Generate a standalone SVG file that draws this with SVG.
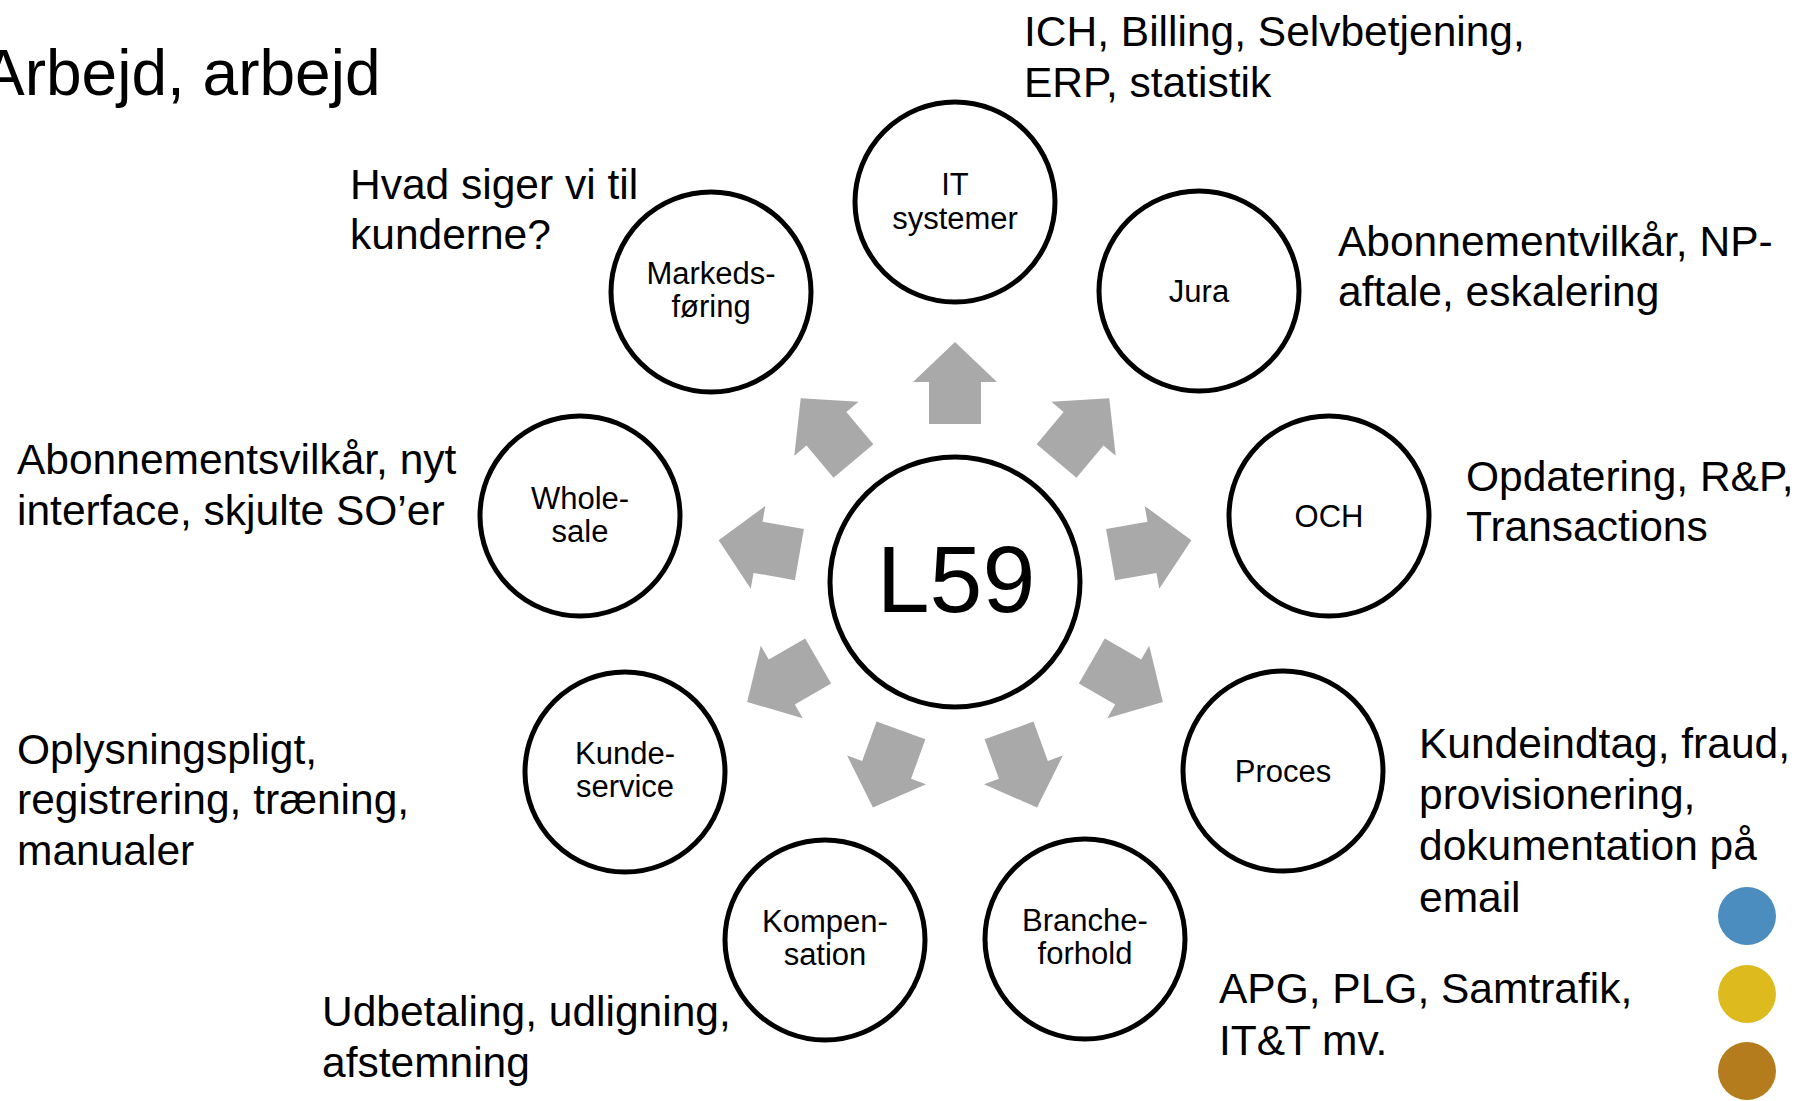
<svg xmlns="http://www.w3.org/2000/svg" xmlns:xlink="http://www.w3.org/1999/xlink" width="1798" height="1101" viewBox="0 0 1798 1101">
<style>
text { font-family: "Liberation Sans", Arial, sans-serif; fill: #000; }
.node { fill: #fff; stroke: #000; stroke-width: 5; }
.lbl { font-size: 31px; text-anchor: middle; }
.note { font-size: 42.5px; }
.title { font-size: 64px; }
.arrow { fill: #A9A9A9; }
</style>
<defs>
<path id="arr" class="arrow" d="M929,424 L929,382 L913,382 L955,342 L997,382 L981,382 L981,424 Z"/>
</defs>
<rect width="1798" height="1101" fill="#fff"/>
<text class="title" x="-18" y="95">Arbejd, arbejd</text>

<g id="connectors">
<use xlink:href="#arr" href="#arr"/>
<use xlink:href="#arr" href="#arr" transform="rotate(40 955 582)"/>
<use xlink:href="#arr" href="#arr" transform="rotate(-40 955 582)"/>
<use xlink:href="#arr" href="#arr" transform="rotate(80 955 582)"/>
<use xlink:href="#arr" href="#arr" transform="rotate(-80 955 582)"/>
<use xlink:href="#arr" href="#arr" transform="rotate(120 955 582)"/>
<use xlink:href="#arr" href="#arr" transform="rotate(-120 955 582)"/>
<use xlink:href="#arr" href="#arr" transform="rotate(160 955 582)"/>
<use xlink:href="#arr" href="#arr" transform="rotate(-160 955 582)"/>
</g>

<g id="node-l59">
<circle class="node" cx="955" cy="582" r="125"/>
<text x="956" y="612" font-size="95" text-anchor="middle">L59</text>
</g>
<g id="node-it">
<circle class="node" cx="955" cy="202" r="100"/>
<text class="lbl" x="955" y="195">IT</text>
<text class="lbl" x="955" y="229">systemer</text>
</g>
<g id="node-jura">
<circle class="node" cx="1199" cy="291" r="100"/>
<text class="lbl" x="1199" y="302">Jura</text>
</g>
<g id="node-markedsforing">
<circle class="node" cx="711" cy="292" r="100"/>
<text class="lbl" x="711" y="284">Markeds-</text>
<text class="lbl" x="711" y="317">føring</text>
</g>
<g id="node-och">
<circle class="node" cx="1329" cy="516" r="100"/>
<text class="lbl" x="1329" y="527">OCH</text>
</g>
<g id="node-wholesale">
<circle class="node" cx="580" cy="516" r="100"/>
<text class="lbl" x="580" y="509">Whole-</text>
<text class="lbl" x="580" y="542">sale</text>
</g>
<g id="node-proces">
<circle class="node" cx="1283" cy="771" r="100"/>
<text class="lbl" x="1283" y="782">Proces</text>
</g>
<g id="node-kundeservice">
<circle class="node" cx="625" cy="772" r="100"/>
<text class="lbl" x="625" y="764">Kunde-</text>
<text class="lbl" x="625" y="797">service</text>
</g>
<g id="node-branche">
<circle class="node" cx="1085" cy="939" r="100"/>
<text class="lbl" x="1085" y="931">Branche-</text>
<text class="lbl" x="1085" y="964">forhold</text>
</g>
<g id="node-kompensation">
<circle class="node" cx="825" cy="940" r="100"/>
<text class="lbl" x="825" y="932">Kompen-</text>
<text class="lbl" x="825" y="965">sation</text>
</g>

<g id="notes">
<text class="note" x="1024" y="46">ICH, Billing, Selvbetjening,</text>
<text class="note" x="1024" y="97">ERP, statistik</text>
<text class="note" x="350" y="199">Hvad siger vi til</text>
<text class="note" x="350" y="249">kunderne?</text>
<text class="note" x="1338" y="256">Abonnementvilkår, NP-</text>
<text class="note" x="1338" y="306">aftale, eskalering</text>
<text class="note" x="17" y="474">Abonnementsvilkår, nyt</text>
<text class="note" x="17" y="525">interface, skjulte SO’er</text>
<text class="note" x="1466" y="491">Opdatering, R&amp;P,</text>
<text class="note" x="1466" y="541">Transactions</text>
<text class="note" x="17" y="764">Oplysningspligt,</text>
<text class="note" x="17" y="814">registrering, træning,</text>
<text class="note" x="17" y="865">manualer</text>
<text class="note" x="1419" y="758">Kundeindtag, fraud,</text>
<text class="note" x="1419" y="809">provisionering,</text>
<text class="note" x="1419" y="860">dokumentation på</text>
<text class="note" x="1419" y="912">email</text>
<text class="note" x="322" y="1026">Udbetaling, udligning,</text>
<text class="note" x="322" y="1077">afstemning</text>
<text class="note" x="1219" y="1003">APG, PLG, Samtrafik,</text>
<text class="note" x="1219" y="1055">IT&amp;T mv.</text>
</g>

<g id="dots">
<circle cx="1747" cy="916" r="29" fill="#4B8DBF"/>
<circle cx="1747" cy="994" r="29" fill="#DDBA1D"/>
<circle cx="1747" cy="1071" r="29" fill="#B47C1C"/>
</g>
</svg>
